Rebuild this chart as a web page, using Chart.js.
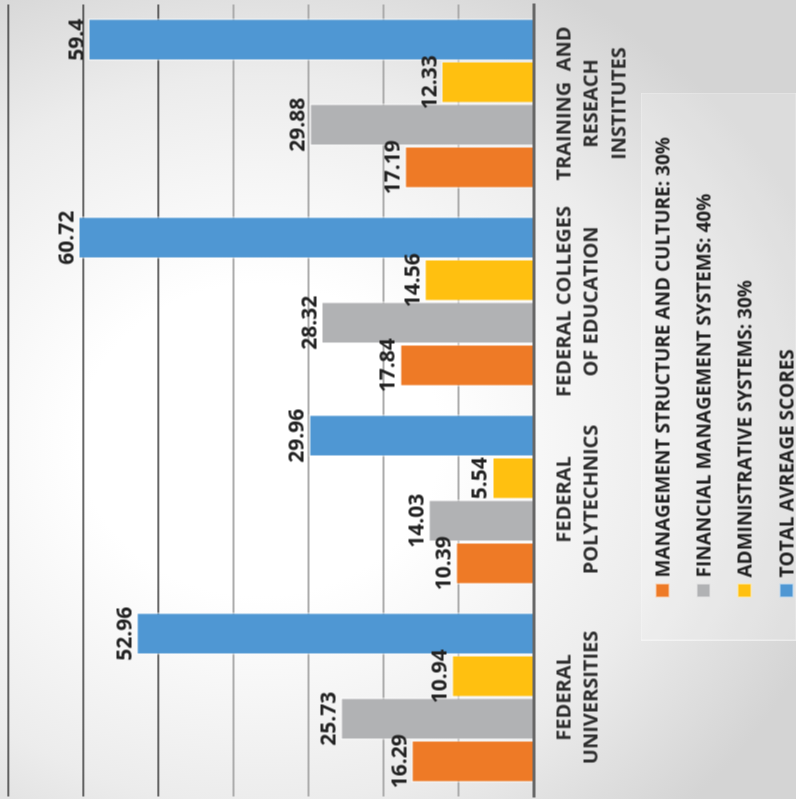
<!DOCTYPE html>
<html>
<head>
<meta charset="utf-8">
<script src="https://cdn.jsdelivr.net/npm/chart.js@4.4.1/dist/chart.umd.min.js"></script>
<style>
html, body { margin: 0; width: 796px; height: 799px; overflow: hidden; }
body {
  background: radial-gradient(ellipse 600px 520px at 260px 440px, #ffffff 0%, #ffffff 30%, #ececec 70%, #d4d4d4 100%);
  font-family: 'Open Sans', sans-serif;
}
/* the whole chart is turned a quarter turn, like the picture */
#frame { position: absolute; left: -1.5px; top: 1.5px; width: 799px; height: 796px; transform: rotate(-90deg); }
#chart { position: absolute; left: 0; top: 0; }
#legend {
  position: absolute; left: 159px; top: 640px; width: 548px; height: 156px;
  background: rgba(255,255,255,0.2); border: 1px solid rgba(255,255,255,0.4); box-sizing: border-box;
}
.item { position: absolute; left: 42px; display: flex; align-items: center; height: 20px; }
.item span.box { width: 12px; height: 12px; border: 1px solid rgba(255,255,255,0.6); margin-right: 6px; }
.item span.txt { font: bold 19px 'Open Sans', sans-serif; color: #222222; line-height: 20px; white-space: pre; }
</style>
</head>
<body>
<div id="frame">
  <canvas id="chart" width="799" height="796"></canvas>
  <div id="legend"></div>
</div>
<script>
const categories = [
  ['FEDERAL', 'UNIVERSITIES'],
  ['FEDERAL', 'POLYTECHNICS'],
  ['FEDERAL COLLEGES', 'OF EDUCATION'],
  ['TRAINING  AND', 'RESEACH', 'INSTITUTES']
];
const seriesNames = [
  'MANAGEMENT STRUCTURE AND CULTURE: 30%',
  'FINANCIAL MANAGEMENT SYSTEMS: 40%',
  'ADMINISTRATIVE SYSTEMS: 30%',
  'TOTAL AVREAGE SCORES'
];
const management = [16.29, 10.39, 17.84, 17.19];
const financial = [25.73, 14.03, 28.32, 29.88];
const administrative = [10.94, 5.54, 14.56, 12.33];
const totalAvg = [52.96, 29.96, 60.72, 59.4];
const colors = ['#EE7A26', '#B1B2B4', '#FFC010', '#4F97D3'];

const valueLabels = {
  id: 'valueLabels',
  afterDatasetsDraw(chart) {
    const ctx = chart.ctx;
    ctx.save();
    ctx.font = 'bold 21px "Open Sans", sans-serif';
    ctx.fillStyle = '#222222';
    ctx.textAlign = 'center';
    ctx.textBaseline = 'alphabetic';
    chart.data.datasets.forEach((ds, i) => {
      chart.getDatasetMeta(i).data.forEach((bar, j) => {
        ctx.fillText(String(ds.data[j]), bar.x, bar.y - 5);
      });
    });
    ctx.restore();
  }
};

const allSeries = [management, financial, administrative, totalAvg];

let chart = new Chart(document.querySelector('#chart'), {
  type: 'bar',
  data: {
    labels: categories,
    datasets: allSeries.map((vals, i) => ({
      label: seriesNames[i],
      data: vals,
      backgroundColor: colors[i],
      borderColor: 'rgba(255,255,255,0.55)',
      borderWidth: 1.5,
      barPercentage: 1,
      categoryPercentage: 0.86
    }))
  },
  options: {
    responsive: false,
    animation: false,
    layout: { padding: { left: 3, right: 4, top: 8, bottom: 0 } },
    plugins: { legend: { display: false }, tooltip: { enabled: false } },
    scales: {
      x: {
        grid: { display: false, drawTicks: false },
        border: { display: true, color: '#666666', width: 3 },
        ticks: {
          color: '#2e2e2e',
          font: { family: 'Open Sans', weight: 'bold', size: 20, lineHeight: 1.38 },
          padding: 17,
          maxRotation: 0,
          autoSkip: false
        },
        afterFit: (s) => { s.height = 263; }
      },
      y: {
        min: 0,
        max: 70,
        ticks: { display: false, stepSize: 10 },
        border: { display: false },
        grid: {
          drawTicks: false,
          color: (c) => (c.tick && c.tick.value >= 50 ? '#333333' : '#ababab'),
          lineWidth: (c) => (c.tick && c.tick.value >= 50 ? 1.5 : 2)
        },
        afterFit: (s) => { s.width = 0; }
      }
    }
  },
  plugins: [valueLabels]
});

// legend, one item per row
const legend = document.querySelector('#legend');
const rowCenters = [21, 62, 103, 145];
seriesNames.forEach((name, i) => {
  let item = document.createElement('div');
  item.className = 'item';
  item.style.top = (rowCenters[i] - 10) + 'px';
  item.innerHTML = '<span class="box" style="background:' + colors[i] + '"></span><span class="txt"></span>';
  item.querySelector('.txt').textContent = name;
  legend.appendChild(item);
});
</script>
</body>
</html>
